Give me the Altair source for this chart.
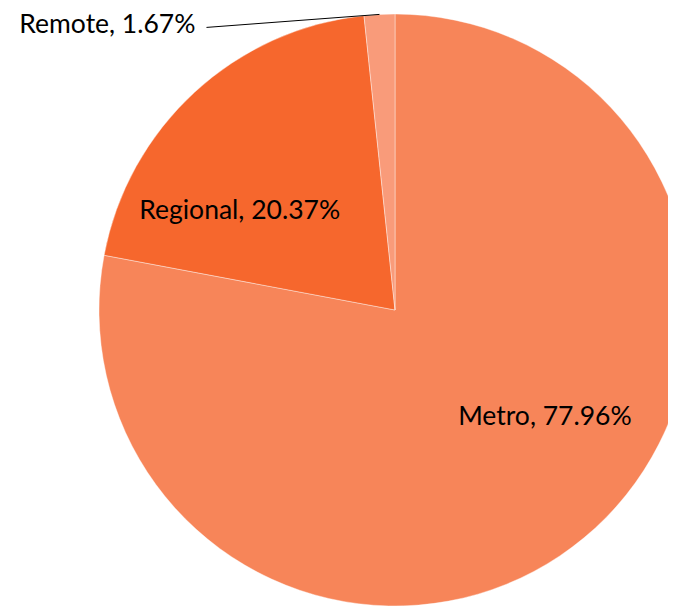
import altair as alt
import pandas as pd

categories = ["Metro", "Regional", "Remote"]
shares = [77.96, 20.37, 1.67]
colors = ["#F78559", "#F6672D", "#F99B7A"]

df = pd.DataFrame({
    "category": categories,
    "share": shares,
    "order": list(range(len(categories))),
})
df["label"] = [f"{c}, {s:.2f}%" for c, s in zip(categories, shares)]
df["inside"] = [l if s > 5 else "" for l, s in zip(df["label"], shares)]

CX, CY, R = 387, 302, 296
FONT = "Lato"
FS = 26.5

base = alt.Chart(df)

pie = base.mark_arc(outerRadius=R, stroke="white", strokeWidth=0.4).encode(
    theta=alt.Theta("share:Q", stack=True),
    color=alt.Color("category:N", scale=alt.Scale(domain=categories, range=colors), legend=None),
    order=alt.Order("order:Q"),
    x=alt.value(CX),
    y=alt.value(CY),
)

inside = base.mark_text(radius=184, thetaOffset=-0.26, font=FONT, fontSize=FS, color="black").encode(
    theta=alt.Theta("share:Q", stack=True),
    order=alt.Order("order:Q"),
    text="inside:N",
    x=alt.value(CX),
    y=alt.value(CY),
)

outer = base.transform_joinaggregate(total="sum(share)").transform_window(
    cum="sum(share)", sort=[alt.SortField("order")], frame=[None, 0]
).transform_calculate(
    mid="(datum.cum - datum.share/2)/datum.total*2*PI",
    ex=f"{CX} + {R}*sin(datum.mid)",
    ey=f"{CY} - {R}*cos(datum.mid)",
    lx="datum.ex - 173",
    ly="datum.ey + 13",
).transform_filter("datum.share <= 5")

leader = outer.mark_rule(color="black", strokeWidth=1).encode(
    x=alt.X("lx:Q", scale=None), y=alt.Y("ly:Q", scale=None),
    x2="ex:Q", y2="ey:Q",
)
outer_text = outer.mark_text(align="right", baseline="middle", dx=-11, dy=-2,
                             font=FONT, fontSize=FS, color="black").encode(
    x=alt.X("lx:Q", scale=None), y=alt.Y("ly:Q", scale=None), text="label:N",
)

chart = alt.layer(pie, inside, leader, outer_text).properties(
    width=660, height=598, padding=0, autosize="none"
).configure_view(stroke=None)

chart.save("out.html", embed_options={"renderer": "svg", "actions": False})
